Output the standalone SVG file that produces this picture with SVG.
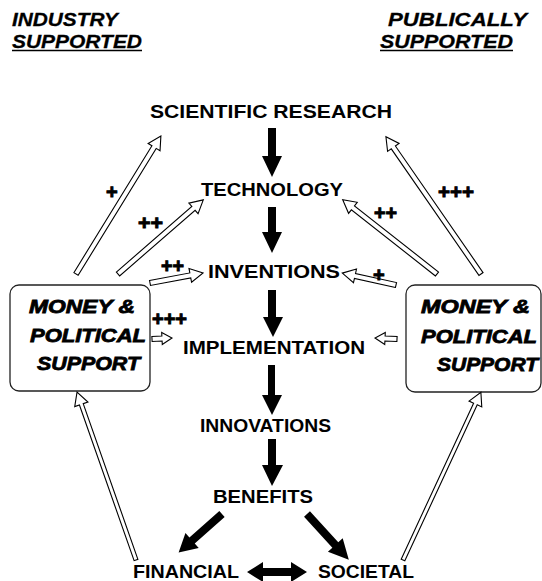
<svg xmlns="http://www.w3.org/2000/svg" width="542" height="581" viewBox="0 0 542 581">
<style>
.t{font-family:"Liberation Sans",Arial,sans-serif;font-weight:bold;font-size:17.5px;fill:#000}
.h{font-family:"Liberation Sans",Arial,sans-serif;font-weight:bold;font-style:italic;font-size:19px;fill:#000;stroke:#000;stroke-width:0.3}
.m{font-family:"Liberation Sans",Arial,sans-serif;font-weight:900;font-style:italic;font-size:19px;fill:#000;stroke:#000;stroke-width:0.8}
.p{font-family:"Liberation Sans",Arial,sans-serif;font-weight:bold;font-size:20px;fill:#000;stroke:#000;stroke-width:0.9}
.box{fill:#fff;stroke:#222;stroke-width:1.3}
.ha{fill:#fff;stroke:#000;stroke-width:1.1;stroke-linejoin:miter}
.ba{fill:#000;stroke:none}
</style>
<rect width="542" height="581" fill="#fff"/>
<g id="headers">
<text class="h" x="12" y="26" textLength="106" lengthAdjust="spacingAndGlyphs">INDUSTRY</text>
<text class="h" x="12" y="48" textLength="130" lengthAdjust="spacingAndGlyphs">SUPPORTED</text>
<line x1="12" y1="50.5" x2="142" y2="50.5" stroke="#000" stroke-width="1.6"/>
<text class="h" x="388" y="26" textLength="139" lengthAdjust="spacingAndGlyphs">PUBLICALLY</text>
<text class="h" x="380" y="48" textLength="133" lengthAdjust="spacingAndGlyphs">SUPPORTED</text>
<line x1="380" y1="50.5" x2="513" y2="50.5" stroke="#000" stroke-width="1.6"/>
</g>
<g id="scientific-research"><text class="t" x="150" y="118" textLength="242" lengthAdjust="spacingAndGlyphs">SCIENTIFIC RESEARCH</text></g>
<g id="technology"><text class="t" x="201" y="196" textLength="142" lengthAdjust="spacingAndGlyphs">TECHNOLOGY</text></g>
<g id="inventions"><text class="t" x="208" y="278" textLength="132" lengthAdjust="spacingAndGlyphs">INVENTIONS</text></g>
<g id="implementation"><text class="t" x="183" y="354" textLength="182" lengthAdjust="spacingAndGlyphs">IMPLEMENTATION</text></g>
<g id="innovations"><text class="t" x="200" y="432" textLength="131" lengthAdjust="spacingAndGlyphs">INNOVATIONS</text></g>
<g id="benefits"><text class="t" x="213" y="503" textLength="100" lengthAdjust="spacingAndGlyphs">BENEFITS</text></g>
<g id="financial"><text class="t" x="133" y="578" textLength="106" lengthAdjust="spacingAndGlyphs">FINANCIAL</text></g>
<g id="societal"><text class="t" x="318" y="578" textLength="96" lengthAdjust="spacingAndGlyphs">SOCIETAL</text></g>
<g id="industry-support">
<rect class="box" x="10" y="285" width="140" height="106" rx="9"/>
<text class="m" x="29" y="313" textLength="106" lengthAdjust="spacingAndGlyphs">MONEY &amp;</text>
<text class="m" x="30" y="342" textLength="116" lengthAdjust="spacingAndGlyphs">POLITICAL</text>
<text class="m" x="37" y="370" textLength="103" lengthAdjust="spacingAndGlyphs">SUPPORT</text>
</g>
<g id="public-support">
<rect class="box" x="406" y="285" width="135" height="107" rx="9"/>
<text class="m" x="421" y="313" textLength="109" lengthAdjust="spacingAndGlyphs">MONEY &amp;</text>
<text class="m" x="421" y="343" textLength="116" lengthAdjust="spacingAndGlyphs">POLITICAL</text>
<text class="m" x="437" y="371" textLength="101" lengthAdjust="spacingAndGlyphs">SUPPORT</text>
</g>
<g id="connectors">
<path class="ba" d="M268,128 H276 V156 H282 L272,177 L262,156 H268 Z"/>
<path class="ba" d="M268,207 H276 V232 H282 L272,253 L262,232 H268 Z"/>
<path class="ba" d="M268,290 H276 V317 H283 L273,337 L263,317 H268 Z"/>
<path class="ba" d="M268,365 H275 V395 H282 L272,415 L262,395 H268 Z"/>
<path class="ba" d="M268,439 H276 V465 H283 L272,486 L262,465 H268 Z"/>
<path class="ba" d="M0,-4 H40 V-10 L58,0 L40,10 V4 H0 Z" transform="translate(222,514) rotate(138.4)"/>
<path class="ba" d="M0,-4 H42 V-10 L62,0 L42,10 V4 H0 Z" transform="translate(307,514) rotate(47.6)"/>
<path class="ba" d="M247,572 L263,562 V568 H291 V562 L307,572 L291,582 V576 H263 V582 Z"/>
<path class="ha" d="M0,-2.5 H149 V-7 L162,0 L149,7 V2.5 H0 Z" transform="translate(76,274) rotate(-58.4)"/>
<path class="ha" d="M0,-2.5 H100 V-7 L113,0 L100,7 V2.5 H0 Z" transform="translate(118,274) rotate(-41)"/>
<path class="ha" d="M0,-2.5 H41 V-7 L54,0 L41,7 V2.5 H0 Z" transform="translate(150,283) rotate(-10.7)"/>
<path class="ha" d="M0,-2.5 H10 V-6 L20,0 L10,6 V2.5 H0 Z" transform="translate(152,339) rotate(-2.9)"/>
<path class="ha" d="M0,-2.5 H154 V-7 L167,0 L154,7 V2.5 H0 Z" transform="translate(481,274) rotate(-124.7)"/>
<path class="ha" d="M0,-2.5 H107 V-7 L120,0 L107,7 V2.5 H0 Z" transform="translate(437,274) rotate(-141.8)"/>
<path class="ha" d="M0,-2.5 H42 V-7 L55,0 L42,7 V2.5 H0 Z" transform="translate(396,285) rotate(-167.5)"/>
<path class="ha" d="M0,-2.5 H12 V-6 L22,0 L12,6 V2.5 H0 Z" transform="translate(397,339) rotate(-177.4)"/>
<path class="ha" d="M0,-2 H165 V-7 L178,0 L165,7 V2 H0 Z" transform="translate(136,560) rotate(-109.35)"/>
<path class="ha" d="M0,-2 H172 V-7 L185,0 L172,7 V2 H0 Z" transform="translate(403,560) rotate(-65.1)"/>
</g>
<g id="labels">
<text class="p" x="106" y="199">+</text>
<text class="p" x="138" y="230" textLength="25" lengthAdjust="spacingAndGlyphs">++</text>
<text class="p" x="161" y="273" textLength="23" lengthAdjust="spacingAndGlyphs">++</text>
<text class="p" x="152" y="326" textLength="35" lengthAdjust="spacingAndGlyphs">+++</text>
<text class="p" x="438" y="199" textLength="36" lengthAdjust="spacingAndGlyphs">+++</text>
<text class="p" x="374" y="220" textLength="23" lengthAdjust="spacingAndGlyphs">++</text>
<text class="p" x="373" y="282">+</text>
</g>
</svg>
